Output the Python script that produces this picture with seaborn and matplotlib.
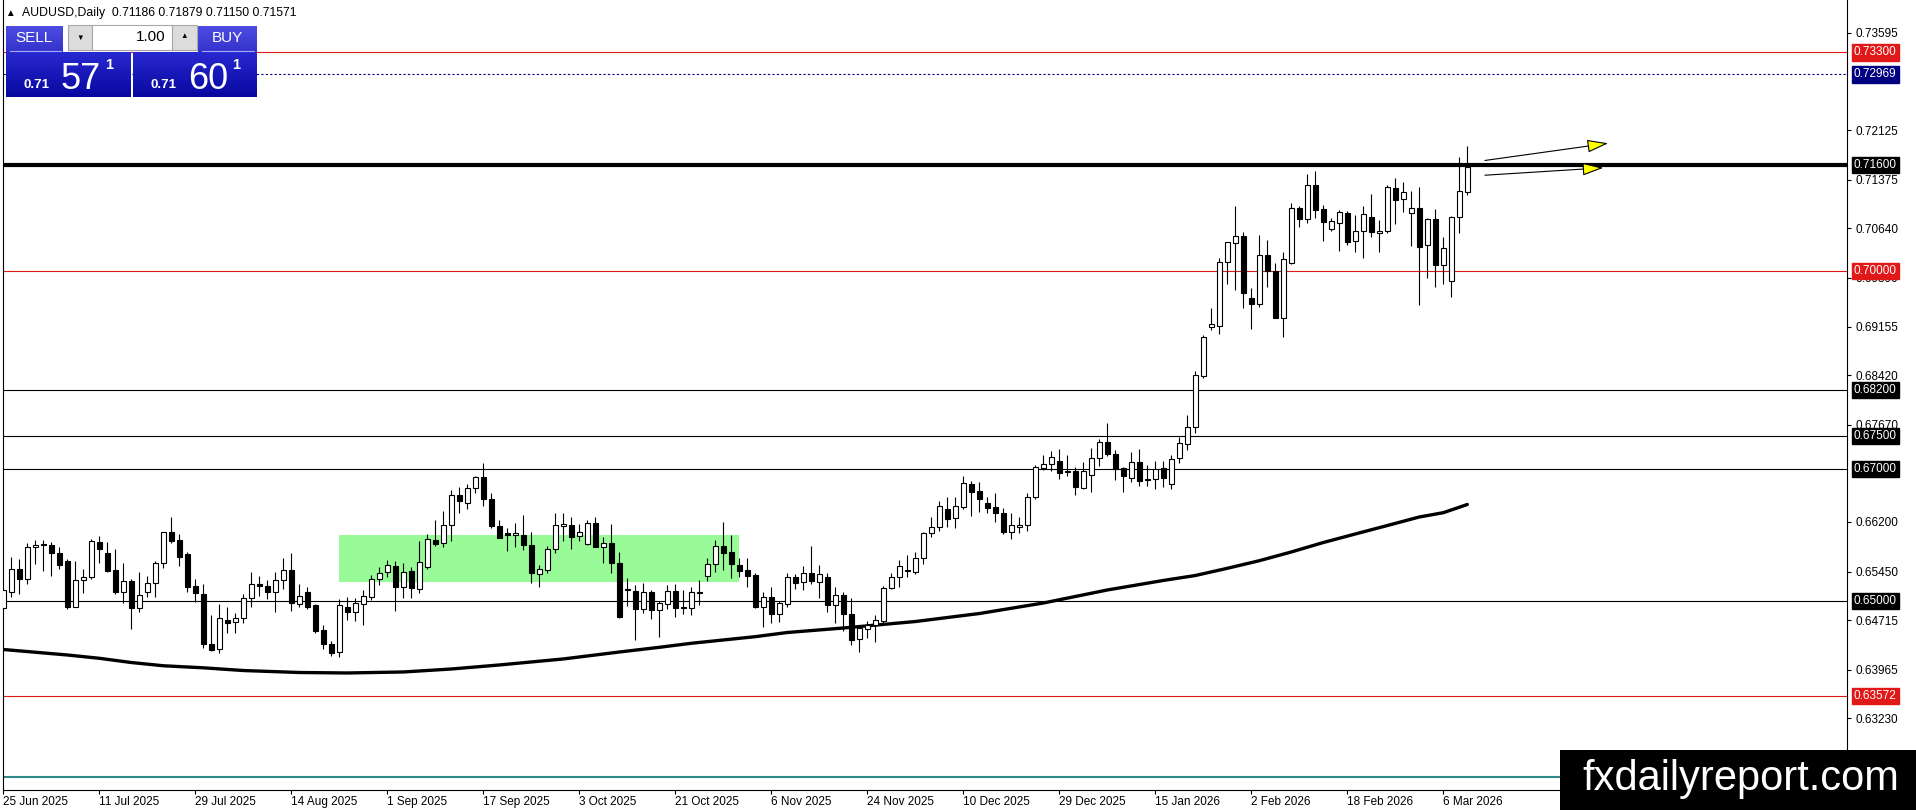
import numpy as np
import pandas as pd
import matplotlib
matplotlib.use("Agg")
import matplotlib.pyplot as plt
from matplotlib.patches import Rectangle
from matplotlib.colors import LinearSegmentedColormap
import seaborn as sns

# AUDUSD daily bars, 25 Jun 2025 .. 11 Mar 2026
opens = [
    0.64894, 0.65146, 0.65483, 0.65332, 0.65816, 0.65872, 0.65851, 0.65735, 0.65609, 0.64919,
    0.65322, 0.65373, 0.65897, 0.65735, 0.65473, 0.65146, 0.65307, 0.64894, 0.65146, 0.65272,
    0.65574, 0.66048, 0.65927, 0.65715, 0.65231, 0.65105, 0.64355, 0.64274, 0.64717, 0.64682,
    0.64743, 0.65045, 0.65257, 0.65231, 0.65146, 0.65322, 0.65473, 0.64959, 0.65136, 0.64944,
    0.64561, 0.64360, 0.64229, 0.64909, 0.64838, 0.64959, 0.65070, 0.65332, 0.65448, 0.65534,
    0.65211, 0.65458, 0.65181, 0.65523, 0.65922, 0.65876, 0.66148, 0.66607, 0.66481, 0.66708,
    0.66874, 0.66541, 0.66138, 0.66027, 0.66002, 0.65997, 0.65851, 0.65413, 0.65473, 0.65785,
    0.66143, 0.66153, 0.65987, 0.65861, 0.66189, 0.65826, 0.65886, 0.65574, 0.65191, 0.65155,
    0.64878, 0.65135, 0.64868, 0.64954, 0.65150, 0.64909, 0.64893, 0.65130, 0.65382, 0.65564,
    0.65841, 0.65745, 0.65549, 0.65473, 0.65392, 0.64919, 0.65065, 0.64803, 0.64960, 0.65373,
    0.65287, 0.65423, 0.65297, 0.65363, 0.64949, 0.65096, 0.64803, 0.64425, 0.64576, 0.64642,
    0.64708, 0.65196, 0.65363, 0.65453, 0.65448, 0.65655, 0.66028, 0.66119, 0.66396, 0.66255,
    0.66431, 0.66774, 0.66668, 0.66482, 0.66421, 0.66330, 0.66053, 0.66129, 0.66154, 0.66582,
    0.67021, 0.67071, 0.67122, 0.66970, 0.66970, 0.66718, 0.66905, 0.67162, 0.67409, 0.67222,
    0.67011, 0.66860, 0.67112, 0.66850, 0.66844, 0.67011, 0.66769, 0.67162, 0.67374, 0.67631,
    0.68414, 0.69154, 0.69170, 0.70127, 0.70414, 0.70525, 0.69583, 0.69492, 0.70238, 0.69996,
    0.69290, 0.70112, 0.70944, 0.70777, 0.71296, 0.70928, 0.70626, 0.70727, 0.70868, 0.70450,
    0.70601, 0.70808, 0.70566, 0.70601, 0.71246, 0.71080, 0.70868, 0.70944, 0.70384, 0.70777,
    0.70092, 0.69850, 0.70808, 0.71186,
]
highs = [
    0.65196, 0.65675, 0.65635, 0.65877, 0.65927, 0.65927, 0.65902, 0.65826, 0.65635, 0.65609,
    0.65494, 0.65937, 0.65987, 0.65902, 0.65786, 0.65574, 0.65342, 0.65448, 0.65383, 0.65609,
    0.66053, 0.66280, 0.66013, 0.65751, 0.65332, 0.65257, 0.64793, 0.64954, 0.64919, 0.64818,
    0.65105, 0.65448, 0.65383, 0.65322, 0.65448, 0.65650, 0.65725, 0.65262, 0.65221, 0.64954,
    0.64642, 0.64405, 0.65040, 0.65070, 0.65045, 0.65171, 0.65398, 0.65514, 0.65625, 0.65609,
    0.65574, 0.65523, 0.65917, 0.66012, 0.66229, 0.66370, 0.66683, 0.66733, 0.66773, 0.66894,
    0.67090, 0.66632, 0.66229, 0.66103, 0.66189, 0.66305, 0.66053, 0.65549, 0.65836, 0.66330,
    0.66330, 0.66279, 0.66169, 0.66229, 0.66269, 0.65977, 0.66169, 0.65750, 0.65347, 0.65246,
    0.65271, 0.65171, 0.65009, 0.65246, 0.65261, 0.65171, 0.65211, 0.65322, 0.65649, 0.65927,
    0.66194, 0.66002, 0.65649, 0.65649, 0.65423, 0.65140, 0.65221, 0.65009, 0.65433, 0.65413,
    0.65534, 0.65842, 0.65549, 0.65423, 0.65212, 0.65146, 0.65045, 0.64642, 0.64708, 0.64793,
    0.65237, 0.65433, 0.65625, 0.65700, 0.65741, 0.66043, 0.66280, 0.66517, 0.66572, 0.66572,
    0.66895, 0.66824, 0.66809, 0.66582, 0.66633, 0.66406, 0.66330, 0.66270, 0.66633, 0.67061,
    0.67212, 0.67278, 0.67298, 0.67212, 0.67036, 0.67107, 0.67313, 0.67449, 0.67691, 0.67288,
    0.67036, 0.67253, 0.67298, 0.67061, 0.67127, 0.67127, 0.67212, 0.67490, 0.67818, 0.68489,
    0.69028, 0.69432, 0.70188, 0.70440, 0.70979, 0.70591, 0.69734, 0.70540, 0.70465, 0.70112,
    0.70278, 0.71029, 0.70979, 0.71463, 0.71508, 0.70994, 0.70792, 0.70918, 0.70903, 0.70843,
    0.70979, 0.71160, 0.70767, 0.71296, 0.71407, 0.71347, 0.71206, 0.71261, 0.70792, 0.70928,
    0.70505, 0.70820, 0.71725, 0.71879,
]
lows = [
    0.64869, 0.65070, 0.65105, 0.65257, 0.65564, 0.65463, 0.65388, 0.65483, 0.64879, 0.64909,
    0.65121, 0.65332, 0.65584, 0.65448, 0.65105, 0.64979, 0.64576, 0.64838, 0.65070, 0.65070,
    0.65509, 0.65877, 0.65534, 0.65146, 0.64985, 0.64299, 0.64254, 0.64213, 0.64526, 0.64526,
    0.64677, 0.64919, 0.65080, 0.65030, 0.64843, 0.65191, 0.64848, 0.64909, 0.64884, 0.64516,
    0.64274, 0.64173, 0.64163, 0.64717, 0.64707, 0.64647, 0.65020, 0.65252, 0.65373, 0.64859,
    0.65045, 0.65045, 0.65130, 0.65488, 0.65836, 0.65826, 0.65917, 0.66330, 0.66400, 0.66632,
    0.66441, 0.66103, 0.65952, 0.65765, 0.65816, 0.65775, 0.65281, 0.65221, 0.65433, 0.65735,
    0.65911, 0.65791, 0.65917, 0.65851, 0.65816, 0.65584, 0.65423, 0.64742, 0.64929, 0.64415,
    0.64828, 0.64732, 0.64465, 0.64878, 0.64757, 0.64808, 0.64793, 0.64944, 0.65312, 0.65448,
    0.65473, 0.65347, 0.65362, 0.65211, 0.64893, 0.64606, 0.64667, 0.64692, 0.64919, 0.65181,
    0.65171, 0.65262, 0.65055, 0.64844, 0.64677, 0.64551, 0.64340, 0.64239, 0.64450, 0.64390,
    0.64667, 0.65181, 0.65222, 0.65373, 0.65408, 0.65559, 0.65978, 0.66063, 0.66119, 0.66114,
    0.66391, 0.66290, 0.66356, 0.66340, 0.66204, 0.66013, 0.65942, 0.66028, 0.66068, 0.66547,
    0.66986, 0.66970, 0.66850, 0.66900, 0.66608, 0.66698, 0.66658, 0.67051, 0.67202, 0.66834,
    0.66658, 0.66809, 0.66744, 0.66749, 0.66703, 0.66734, 0.66703, 0.67097, 0.67288, 0.67550,
    0.68373, 0.69104, 0.69044, 0.69794, 0.69709, 0.69432, 0.69114, 0.69457, 0.69749, 0.69280,
    0.69003, 0.70100, 0.70666, 0.70717, 0.70792, 0.70455, 0.70606, 0.70304, 0.70389, 0.70288,
    0.70188, 0.70515, 0.70288, 0.70576, 0.70702, 0.70893, 0.70374, 0.69482, 0.69885, 0.69759,
    0.69794, 0.69598, 0.70566, 0.71150,
]
closes = [
    0.65171, 0.65483, 0.65332, 0.65816, 0.65851, 0.65846, 0.65735, 0.65549, 0.64909, 0.65322,
    0.65363, 0.65917, 0.65796, 0.65463, 0.65146, 0.65307, 0.64894, 0.65090, 0.65272, 0.65584,
    0.66048, 0.65917, 0.65675, 0.65221, 0.65121, 0.64349, 0.64264, 0.64748, 0.64677, 0.64748,
    0.65045, 0.65257, 0.65237, 0.65146, 0.65322, 0.65473, 0.64969, 0.65085, 0.64919, 0.64556,
    0.64349, 0.64223, 0.64944, 0.64833, 0.64969, 0.65080, 0.65332, 0.65423, 0.65544, 0.65221,
    0.65448, 0.65196, 0.65589, 0.65937, 0.65866, 0.66148, 0.66607, 0.66521, 0.66708, 0.66874,
    0.66541, 0.66138, 0.65962, 0.66002, 0.66027, 0.65851, 0.65423, 0.65483, 0.65791, 0.66153,
    0.66163, 0.65977, 0.66048, 0.66189, 0.65826, 0.65876, 0.65574, 0.64767, 0.65171, 0.64878,
    0.65135, 0.64868, 0.64979, 0.65150, 0.64893, 0.64893, 0.65135, 0.65145, 0.65559, 0.65841,
    0.65735, 0.65559, 0.65463, 0.65387, 0.64909, 0.65070, 0.64808, 0.64969, 0.65373, 0.65282,
    0.65423, 0.65312, 0.65413, 0.64949, 0.65096, 0.64803, 0.64415, 0.64602, 0.64642, 0.64718,
    0.65196, 0.65363, 0.65534, 0.65474, 0.65655, 0.66038, 0.66119, 0.66441, 0.66245, 0.66441,
    0.66784, 0.66658, 0.66552, 0.66416, 0.66340, 0.66053, 0.66149, 0.66149, 0.66582, 0.67036,
    0.67071, 0.67187, 0.66945, 0.66950, 0.66734, 0.66970, 0.67162, 0.67409, 0.67222, 0.66996,
    0.66900, 0.67112, 0.66824, 0.66834, 0.66996, 0.66860, 0.67147, 0.67399, 0.67631, 0.68422,
    0.68993, 0.69195, 0.70127, 0.70430, 0.70525, 0.69658, 0.69492, 0.70238, 0.69996, 0.69290,
    0.70172, 0.70944, 0.70777, 0.71296, 0.70918, 0.70742, 0.70757, 0.70883, 0.70440, 0.70601,
    0.70853, 0.70581, 0.70601, 0.71261, 0.71070, 0.71186, 0.70944, 0.70364, 0.70777, 0.70092,
    0.70339, 0.70808, 0.71206, 0.71571,
]

# one time label every 12 bars
date_labels = ["25 Jun 2025", "11 Jul 2025", "29 Jul 2025", "14 Aug 2025", "1 Sep 2025",
               "17 Sep 2025", "3 Oct 2025", "21 Oct 2025", "6 Nov 2025", "24 Nov 2025",
               "10 Dec 2025", "29 Dec 2025", "15 Jan 2026", "2 Feb 2026", "18 Feb 2026",
               "6 Mar 2026"]
label_step = 12

# moving average, sampled along the drawn curve
ma_bars = [0, 8, 12, 16, 20, 25, 30, 37, 43, 50, 56, 62, 70, 77, 82, 86, 90, 94, 98, 105,
           114, 122, 130, 138, 145, 149, 153, 157, 161, 165, 169, 173, 177, 180, 183]
ma_vals = [0.64271, 0.64188, 0.64138, 0.64074, 0.64025, 0.63994, 0.63953, 0.63923, 0.63916,
           0.63931, 0.63976, 0.64037, 0.64128, 0.64233, 0.64304, 0.64365, 0.64415, 0.64465,
           0.64528, 0.64596, 0.64694, 0.64815, 0.64974, 0.65171, 0.65315, 0.65390, 0.65499,
           0.65614, 0.65746, 0.65889, 0.66018, 0.66146, 0.66275, 0.66340, 0.66464]

# range box (bars, prices)
zone_bars = [42, 92]
zone_prices = [0.65296, 0.66004]

price_ticks = [0.73595, 0.72125, 0.71375, 0.70640, 0.69890, 0.69155, 0.68420, 0.67670,
               0.66200, 0.65450, 0.64715, 0.63965, 0.63230]

black_levels = [0.68200, 0.67500, 0.67000, 0.65000]
red_levels = [0.73300, 0.70000, 0.63572]
key_level = 0.71600
dotted_level = 0.72969
teal_level = 0.62340

arrow_from = [(185.2, 0.71667), (185.2, 0.71444)]
arrow_to = [(200.6, 0.71927), (200.0, 0.71556)]

symbol = "AUDUSD,Daily"
bid = "0.71571"
ask = "0.71601"
lot = "1.00"
site = "fxdailyreport.com"

W, H = 1916, 810
RED = "#e01818"
NAVY = "#000080"

sns.set_style("white")
plt.rcParams["font.family"] = ["Liberation Sans", "DejaVu Sans"]

fig = plt.figure(figsize=(W / 100, H / 100), dpi=100)
ax = fig.add_axes([3 / W, 20 / H, 1844 / W, 790 / H])
ax.set_xlim(-0.04, 230.46)
ax.set_ylim(0.62146, 0.74094)

# range box behind everything
ax.add_patch(Rectangle((zone_bars[0], zone_prices[0]), zone_bars[1] - zone_bars[0],
                       zone_prices[1] - zone_prices[0], facecolor="#98fb98",
                       edgecolor="none", zorder=1))

# horizontal levels
for p in black_levels:
    ax.axhline(p, color="black", lw=0.8, zorder=2)
for p in red_levels:
    ax.axhline(p, color=RED, lw=0.8, zorder=2)
ax.axhline(key_level, color="black", lw=3.0, zorder=2)
ax.axhline(dotted_level, color=NAVY, lw=0.8, ls=(0, (2, 2)), zorder=2)
ax.axhline(teal_level, color="#2f8a8a", lw=1.5, zorder=2)

# moving average
sns.lineplot(x=ma_bars, y=ma_vals, ax=ax, color="black", lw=2.4, zorder=3)

# candles
df = pd.DataFrame({"open": opens, "high": highs, "low": lows, "close": closes})
df["bar"] = np.arange(len(df))
up = df[df.close >= df.open]
dn = df[df.close < df.open]
ax.vlines(df.bar, df.low, df.high, color="black", lw=0.8, zorder=4)
ax.bar(up.bar, (up.close - up.open).clip(lower=0.00002), bottom=up.open, width=0.58,
       color="white", edgecolor="black", lw=0.8, zorder=5)
ax.bar(dn.bar, (dn.open - dn.close).clip(lower=0.00002), bottom=dn.close, width=0.58,
       color="black", edgecolor="black", lw=0.8, zorder=5)

# arrows
for a, b in zip(arrow_from, arrow_to):
    ax.annotate("", xy=b, xytext=a,
                arrowprops=dict(arrowstyle="-|>,head_length=1.3,head_width=0.4",
                                mutation_scale=10, fc="#ffff00", ec="black", lw=0.8,
                                shrinkA=0, shrinkB=0), zorder=6)

# axes look
for side in ["left", "right", "bottom"]:
    ax.spines[side].set_color("black")
    ax.spines[side].set_linewidth(0.8)
ax.spines["top"].set_visible(False)

ax.yaxis.tick_right()
ax.set_yticks(price_ticks)
ax.set_yticklabels([f"{p:.5f}" for p in price_ticks])
ax.tick_params(axis="y", right=True, left=False, labelright=True, labelleft=False,
               length=3, width=0.8, pad=3, labelsize=8.5, colors="black", direction="out")

date_bars = [i * label_step for i in range(len(date_labels))]
ax.set_xticks(date_bars)
ax.set_xticklabels(date_labels, ha="left")
ax.tick_params(axis="x", bottom=True, length=3, width=0.8, pad=1.5, labelsize=8.5,
               colors="black", direction="out")
ax.set_xlabel("")
ax.set_ylabel("")

# price tags for the levels
tags = [(p, "black") for p in black_levels + [key_level]] + [(p, RED) for p in red_levels]
tags.append((dotted_level, NAVY))
for p, c in tags:
    ax.text(1 + 7 / 1844, p, f"{p:.5f}", transform=ax.get_yaxis_transform(), ha="left",
            va="center", color="white", fontsize=8.5, clip_on=False, zorder=10,
            bbox=dict(boxstyle="square,pad=0.18", fc=c, ec=c))

# overlay in pixel space: header, trade panel, watermark
oax = fig.add_axes([0, 0, 1, 1], zorder=5)
oax.patch.set_alpha(0)
oax.axis("off")


def grad_box(x0, y0, x1, y1, top, bottom):
    cmap = LinearSegmentedColormap.from_list("g", [top, bottom])
    oax.imshow(np.linspace(0, 1, 32)[:, None], cmap=cmap, extent=(x0, x1, y1, y0),
               aspect="auto", interpolation="bilinear", zorder=1)


oax.text(5, 13, "\u25b2", fontsize=7, va="center", ha="left", color="black")
oax.text(22, 13, f"{symbol}  {opens[-1]:.5f} {highs[-1]:.5f} {lows[-1]:.5f} {closes[-1]:.5f}",
         fontsize=8.8, va="center", ha="left", color="black")

# small buttons row
grad_box(6, 26, 63, 52, "#4c4ce2", "#3434cc")
grad_box(198, 26, 257, 52, "#4c4ce2", "#3434cc")
oax.plot([10, 61], [51, 51], color="#a8a8f4", lw=0.8, zorder=2)
oax.plot([202, 254], [51, 51], color="#a8a8f4", lw=0.8, zorder=2)
oax.text(34, 38, "SELL", color="white", fontsize=11, ha="center", va="center", zorder=3)
oax.text(227, 38, "BUY", color="white", fontsize=11, ha="center", va="center", zorder=3)
oax.add_patch(Rectangle((68, 25), 24, 25, fc="#dcdcdc", ec="#a8a8a8", lw=0.8, zorder=1))
oax.add_patch(Rectangle((92, 25), 80, 25, fc="white", ec="#a8a8a8", lw=0.8, zorder=1))
oax.add_patch(Rectangle((172, 25), 25, 25, fc="#dcdcdc", ec="#a8a8a8", lw=0.8, zorder=1))
oax.text(80, 38, "\u25bc", fontsize=5.5, ha="center", va="center", color="black", zorder=3)
oax.text(184, 37, "\u25b2", fontsize=5.5, ha="center", va="center", color="black", zorder=3)
oax.text(166, 37, lot, fontsize=11, ha="right", va="center", color="black", zorder=3)

# big price boxes
for x0, x1, quote in [(6, 131, bid), (133, 257, ask)]:
    grad_box(x0, 52, x1, 97, "#2828d0", "#0808a0")
    oax.text(x0 + 18, 88, quote[:4], color="white", fontsize=9.5, fontweight="bold",
             ha="left", va="baseline", zorder=3)
    oax.text(x0 + 55, 89, quote[4:6], color="white", fontsize=26, ha="left",
             va="baseline", zorder=3)
    oax.text(x0 + 99, 58, quote[6], color="white", fontsize=10.5, fontweight="bold",
             ha="left", va="top", zorder=3)

# watermark
oax.add_patch(Rectangle((1560, 750), W - 1560, H - 750, fc="black", ec="none", zorder=4))
oax.text(1741, 779, site, color="white", fontsize=30, ha="center", va="center", zorder=5)

oax.set_xlim(0, W)
oax.set_ylim(H, 0)

fig.savefig("out.png", dpi=100)
